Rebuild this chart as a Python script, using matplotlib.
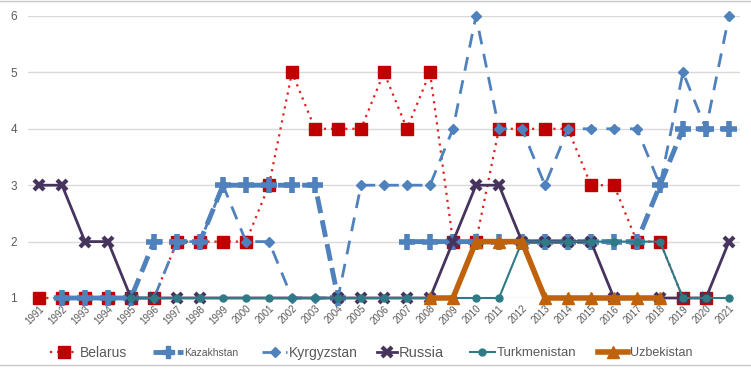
import numpy as np
import matplotlib
matplotlib.use("Agg")
import matplotlib.pyplot as plt
from matplotlib.lines import Line2D

plt.rcParams["font.family"] = ["Liberation Sans", "DejaVu Sans"]

nan = np.nan
years = list(range(1991, 2022))

belarus = [1, 1, 1, 1, 1, 1, 2, 2, 2, 2, 3, 5, 4, 4, 4, 5, 4, 5, 2, 2,
           4, 4, 4, 4, 3, 3, 2, 2, 1, 1, nan]
kazakhstan = [nan, 1, 1, 1, 1, 2, 2, 2, 3, 3, 3, 3, 3, 1, nan, nan, 2, 2, 2, 2,
              2, 2, 2, 2, 2, 2, 2, 3, 4, 4, 4]
kyrgyzstan = [nan, 1, 1, 1, 1, 1, 2, 2, 3, 2, 2, 1, 1, 1, 3, 3, 3, 3, 4, 6,
              4, 4, 3, 4, 4, 4, 4, 3, 5, 4, 6]
russia = [3, 3, 2, 2, 1, 1, 1, 1, nan, nan, nan, nan, nan, 1, 1, 1, 1, 1, 2, 3,
          3, 2, 2, 2, 2, 1, nan, 1, 1, 1, 2]
turkmenistan = [nan, nan, nan, nan, 1, 1, 1, 1, 1, 1, 1, 1, 1, 1, 1, 1, 1, 1, 1, 1,
                1, 2, 2, 2, 2, 2, 2, 2, 1, 1, 1]
uzbekistan = [nan] * 17 + [1, 1, 2, 2, 2, 1, 1, 1, 1, 1, 1] + [nan] * 3

fig = plt.figure(figsize=(7.51, 3.75), dpi=100)
W, H = 751, 375
ax = fig.add_axes([28 / W, 1 - 298 / H, 712 / W, 282 / H])
ax.set_xlim(1990.52, 2021.48)
ax.set_ylim(1, 6)
for s in ax.spines.values():
    s.set_visible(False)
ax.set_yticks([1, 2, 3, 4, 5, 6])
ax.set_yticklabels(["1", "2", "3", "4", "5", "6"], color="#595959", fontsize=8.5)
ax.tick_params(axis="y", length=0, pad=8)
ax.set_xticks(years)
ax.set_xticklabels([str(y) for y in years], rotation=45, ha="right", va="top",
                   rotation_mode="anchor", fontsize=7, color="#595959")
ax.tick_params(axis="x", length=0, pad=4)
ax.grid(axis="y", color="#D9D9D9", lw=1)
ax.set_axisbelow(True)

yrs = np.array(years, dtype=float)

def connected(vals):
    v = np.array(vals, dtype=float)
    m = ~np.isnan(v)
    return yrs[m], v[m]

BLUE = "#4F81BD"
# Belarus
xb, yb = connected(belarus)
ax.plot(xb, yb, color="#E02020", ls=(0, (1, 2.2)), lw=1.6, marker="s",
        ms=8.5, mfc="#C00000", mec="#C00000", clip_on=False, zorder=3)
# Kazakhstan (gaps not connected)
ax.plot(yrs, kazakhstan, color=BLUE, ls=(0, (3.5, 1.5)), lw=3.5,
        clip_on=False, zorder=4)
ax.plot(yrs, kazakhstan, ls="none", marker="+", ms=12, mew=4, color=BLUE,
        clip_on=False, zorder=4)
# Kyrgyzstan
xk, yk = connected(kyrgyzstan)
ax.plot(xk, yk, color=BLUE, ls=(0, (5, 3.5)), lw=2, marker="D", ms=5.5,
        mfc=BLUE, mec=BLUE, clip_on=False, zorder=4)
# Russia
xr, yr = connected(russia)
ax.plot(xr, yr, color="#46345E", lw=2, marker="x", ms=7.5, mew=3,
        clip_on=False, zorder=5)
# Turkmenistan
xt, yt = connected(turkmenistan)
ax.plot(xt, yt, color="#2E7B86", lw=1.5, marker="o", ms=5,
        clip_on=False, zorder=6)
# Uzbekistan
xu, yu = connected(uzbekistan)
ax.plot(xu, yu, color="#C0620C", lw=4, marker="^", ms=9,
        clip_on=False, zorder=7)

# legend handles
h_bel = Line2D([], [], color="#E02020", ls=(0, (1, 2.2)), lw=1.6, marker="s", ms=8.5,
               mfc="#C00000", mec="#C00000")
h_kaz = Line2D([], [], color=BLUE, ls=(0, (3.5, 1.5)), lw=3.5, marker="P", ms=9,
               mfc=BLUE, mec=BLUE)
h_kyr = Line2D([], [], color=BLUE, ls=(0, (5, 3.5)), lw=2, marker="D", ms=5.5,
               mfc=BLUE, mec=BLUE)
h_rus = Line2D([], [], color="#46345E", lw=2, marker="x", ms=7.5, mew=3)
h_tur = Line2D([], [], color="#2E7B86", lw=1.5, marker="o", ms=5)
h_uzb = Line2D([], [], color="#C0620C", lw=4, marker="^", ms=9)

# (handle, label, handle start px, handle width px, font size)
items = [
    (h_bel, "Belarus", 50, 28, 10),
    (h_kaz, "Kazakhstan", 153, 30, 7.5),
    (h_kyr, "Kyrgyzstan", 262, 25, 10),
    (h_rus, "Russia", 377, 20, 10.5),
    (h_tur, "Turkmenistan", 470, 25, 9.5),
    (h_uzb, "Uzbekistan", 598, 30, 9),
]
for h, lab, xpx, wpx, fs in items:
    hl = wpx / (fs * 100 / 72)
    lg = fig.legend([h], [lab], loc="center left",
                    bbox_to_anchor=(xpx / W, 1 - 353 / H), frameon=False,
                    fontsize=fs, handlelength=hl, handletextpad=0.15,
                    borderpad=0, borderaxespad=0)
    for t in lg.get_texts():
        t.set_color("#595959")

fig.add_artist(Line2D([0, 1], [1 - 0.5 / H, 1 - 0.5 / H], color="#C8C8C8", lw=1,
                      transform=fig.transFigure))
fig.add_artist(Line2D([0, 1], [1 - 365 / H, 1 - 365 / H], color="#C8C8C8", lw=1,
                      transform=fig.transFigure))

fig.savefig("out.png", dpi=100, facecolor="white")
